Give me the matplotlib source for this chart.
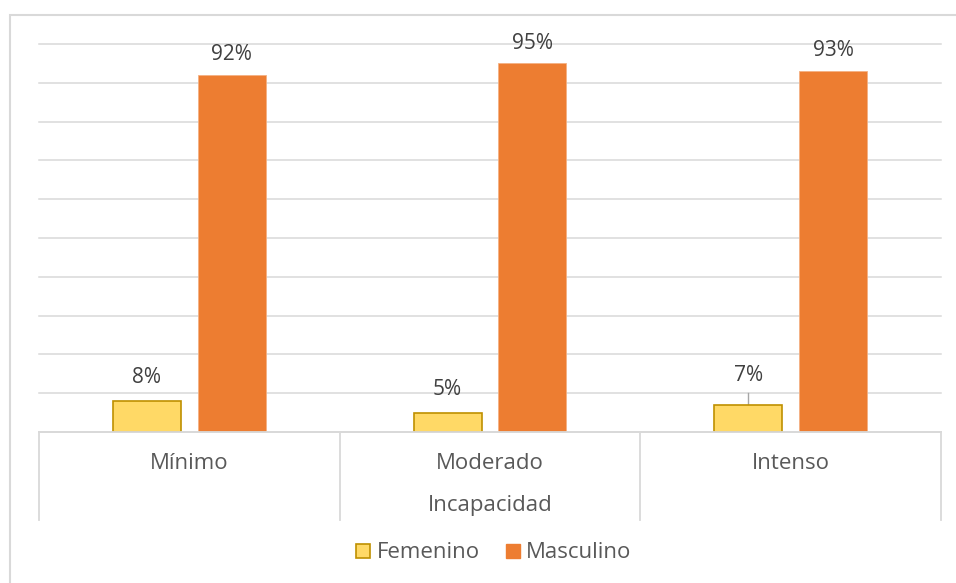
import matplotlib.pyplot as plt
from matplotlib.patches import Rectangle
from matplotlib.lines import Line2D

categories = ['Mínimo', 'Moderado', 'Intenso']
femenino = [0.08, 0.05, 0.07]
masculino = [0.92, 0.95, 0.93]
label_fem = ['8%', '5%', '7%']
label_masc = ['92%', '95%', '93%']
axis_title = 'Incapacidad'

plt.rcParams['font.family'] = ['Open Sans', 'DejaVu Sans']

W, H = 956, 583
fig = plt.figure(figsize=(W / 100, H / 100), dpi=100)

def fx(px):
    return px / W

def fy(py):
    return 1 - py / H

grid_c = '#D9D9D9'
text_c = '#595959'
lab_c = '#404040'

# outer chart border (right and bottom edges fall outside the image)
fig.patches.append(Rectangle((fx(10), fy(600)), fx(980) - fx(10), fy(15) - fy(600),
                             transform=fig.transFigure, fill=False, ec=grid_c, lw=1.5))

ax = fig.add_axes([fx(39), fy(432), fx(941) - fx(39), fy(44) - fy(432)])
x = list(range(len(categories)))
w = 0.226
off = 0.141
ax.bar([i - off for i in x], femenino, w, color='#FFD966', edgecolor='#BF9000', lw=1.2, zorder=3)
ax.bar([i + off for i in x], masculino, w, color='#ED7D31', edgecolor='#F4B183', lw=0.6, zorder=3)

ax.set_xlim(-0.5, len(categories) - 0.5)
ax.set_ylim(0, 1.0)
ax.set_yticks([i / 10 for i in range(11)])
ax.yaxis.grid(True, color=grid_c, lw=1.1)
for gl in ax.get_ygridlines():
    gl.set_clip_on(False)
ax.set_axisbelow(True)
ax.tick_params(left=False, labelleft=False, bottom=False, labelbottom=False)
for s in ax.spines.values():
    s.set_visible(False)

for i in x:
    if i == 2:
        # label moved up with leader line
        ax.plot([i - off, i - off], [femenino[i], femenino[i] + 0.03], color='#A6A6A6', lw=1, zorder=2)
        ax.text(i - off, femenino[i] + 0.075, label_fem[i], ha='center', va='center',
                fontsize=15, color=lab_c)
    else:
        ax.text(i - off, femenino[i] + 0.06, label_fem[i], ha='center', va='center',
                fontsize=15, color=lab_c)
    ax.text(i + off, masculino[i] + 0.052, label_masc[i], ha='center', va='center',
            fontsize=15, color=lab_c)

# category axis lines (multi-level axis)
fig.add_artist(Line2D([fx(39), fx(941)], [fy(432), fy(432)], transform=fig.transFigure, color=grid_c, lw=1.3))
for xp in [39, 340, 640, 941]:
    fig.add_artist(Line2D([fx(xp), fx(xp)], [fy(432), fy(520)], transform=fig.transFigure, color=grid_c, lw=1.3))

for i, c in enumerate(categories):
    ax.text(i, -0.08, c, transform=ax.transData, ha='center', va='center', fontsize=16, color=text_c)

fig.text(fx(490), fy(505), axis_title, ha='center', va='center', fontsize=16, color=text_c)

handles = [Rectangle((0, 0), 1, 1, fc='#FFD966', ec='#BF9000', lw=1.2),
           Rectangle((0, 0), 1, 1, fc='#ED7D31', ec='#ED7D31')]
leg = fig.legend(handles, ['Femenino', 'Masculino'], loc='center', bbox_to_anchor=(fx(494), fy(553)),
                 ncol=2, frameon=False, fontsize=16, handlelength=0.6, handleheight=0.6,
                 handletextpad=0.3, columnspacing=1.2)
for t in leg.get_texts():
    t.set_color(text_c)

fig.savefig('out.png', dpi=100)
